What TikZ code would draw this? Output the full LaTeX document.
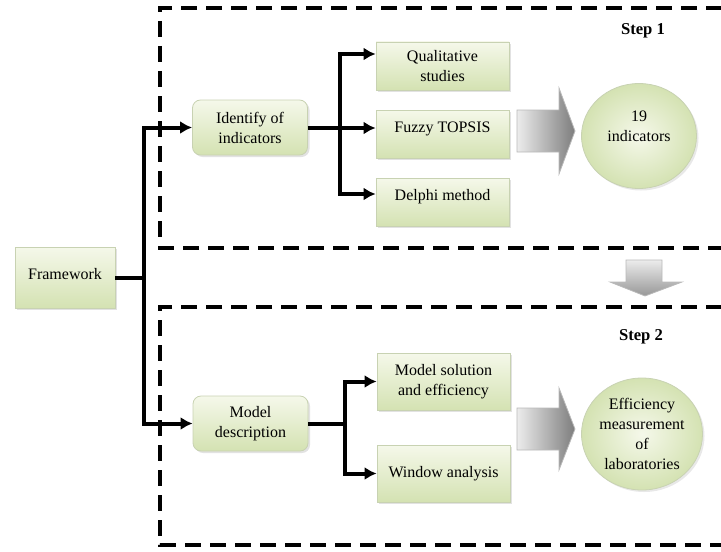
\documentclass[tikz,border=0pt]{standalone}
\usepackage{fontspec}
\setmainfont{Liberation Serif}
\usepackage{xcolor}
\usepackage{tikz}
\usetikzlibrary{shapes,arrows,arrows.meta}
\usetikzlibrary{shadows}
\definecolor{boxlight}{RGB}{245,248,234}
\definecolor{boxdark}{RGB}{212,226,178}
\definecolor{boxedge}{RGB}{200,210,178}
\definecolor{arrowlight}{RGB}{236,236,236}
\definecolor{arrowdark}{RGB}{125,125,125}
\tikzstyle{block} = [rectangle, draw=boxedge, top color=boxlight, bottom color=boxdark,
    align=center, inner sep=1pt, minimum width=66.5pt, minimum height=24pt,
    drop shadow={shadow xshift=1pt, shadow yshift=-1pt, fill=gray!45}]
\tikzstyle{rblock} = [block, rounded corners=4pt, minimum width=57.5pt, minimum height=27.5pt]
\tikzstyle{result} = [ellipse, draw=boxedge, inner color=boxlight, outer color=boxdark,
    align=center, inner sep=0pt,
    drop shadow={shadow xshift=1pt, shadow yshift=-1pt, fill=gray!35}]
\tikzstyle{line} = [draw, line width=2pt, -{Latex[length=6pt,width=6.5pt]}]
\tikzstyle{frame} = [draw, line width=1.75pt, dash pattern=on 8pt off 4.5pt]
\tikzstyle{bigarrow} = [draw=gray!55, left color=arrowlight, right color=arrowdark]
\tikzstyle{downarrow} = [draw=gray!55, top color=arrowlight, bottom color=arrowdark!80]

\begin{document}
\begin{tikzpicture}[x=0.5pt, y=-0.5pt, node distance=34pt, font=\fontsize{8}{10}\selectfont]
    \useasboundingbox (0,0) rectangle (721,551);
    % Step frames
    \path [frame] (722,8) -- (160,8) -- (160,248) -- (722,248);
    \path [frame] (722,307) -- (160,307) -- (160,545) -- (722,545);
    \node [font=\fontsize{8.3}{10}\bfseries] (step1) at (643,31) {Step 1};
    \node [font=\fontsize{8.3}{10}\bfseries] (step2) at (641,337) {Step 2};
    % Place nodes
    \node [block, minimum width=50pt, minimum height=30.5pt, text depth=3.5pt] (fw) at (65,277.5) {Framework};
    \node [rblock] (ident) at (250,127.5) {Identify of\\indicators};
    \node [block, text depth=6.5pt] (fuzzy) at (442.5,134) {Fuzzy TOPSIS};
    \node [block, above of=fuzzy] (qual) {Qualitative\\studies};
    \node [block, below of=fuzzy, text depth=7pt] (delphi) {Delphi method};
    \node [result, minimum width=57.5pt, minimum height=52.5pt, text depth=10pt] (ind) at (639,136) {19\\indicators};
    \node [rblock] (model) at (250.5,423.5) {Model\\description};
    \node [block, minimum height=28.5pt] (msol) at (443.5,381.5) {Model solution\\and efficiency};
    \node [block, minimum height=28.5pt, below of=msol, node distance=46pt] (window) {Window analysis};
    \node [result, minimum width=60.5pt, minimum height=56pt] (eff) at (642,434) {Efficiency\\measurement\\of\\laboratories};
    \coordinate (trunk) at (144,277.5);
    \coordinate (split1) at (340,127.5);
    \coordinate (split2) at (345,423.5);
    % Draw edges
    \draw [line width=2pt] (fw) -- (trunk);
    \path [line] (trunk) |- (ident);
    \path [line] (trunk) |- (model);
    \draw [line width=2pt] (ident) -- (split1);
    \path [line] (split1) |- ([yshift=6pt]qual.west);
    \path [line] (split1) |- ([yshift=3pt]fuzzy.west);
    \path [line] (split1) |- ([yshift=4pt]delphi.west);
    \draw [line width=2pt] (model) -- (split2);
    \path [line] (split2) |- (msol);
    \path [line] (split2) |- (window);
    % Block arrows
    \path [bigarrow] (517,110) -- (559,110) -- (559,88) -- (575,131) -- (559,174)
        -- (559,152) -- (517,152) -- cycle;
    \path [bigarrow] (517,408) -- (559,408) -- (559,388) -- (575,429) -- (559,470)
        -- (559,450) -- (517,450) -- cycle;
    \path [downarrow] (626,260) -- (662,260) -- (662,282) -- (682,282) -- (645,296)
        -- (610,282) -- (626,282) -- cycle;
\end{tikzpicture}
\end{document}
